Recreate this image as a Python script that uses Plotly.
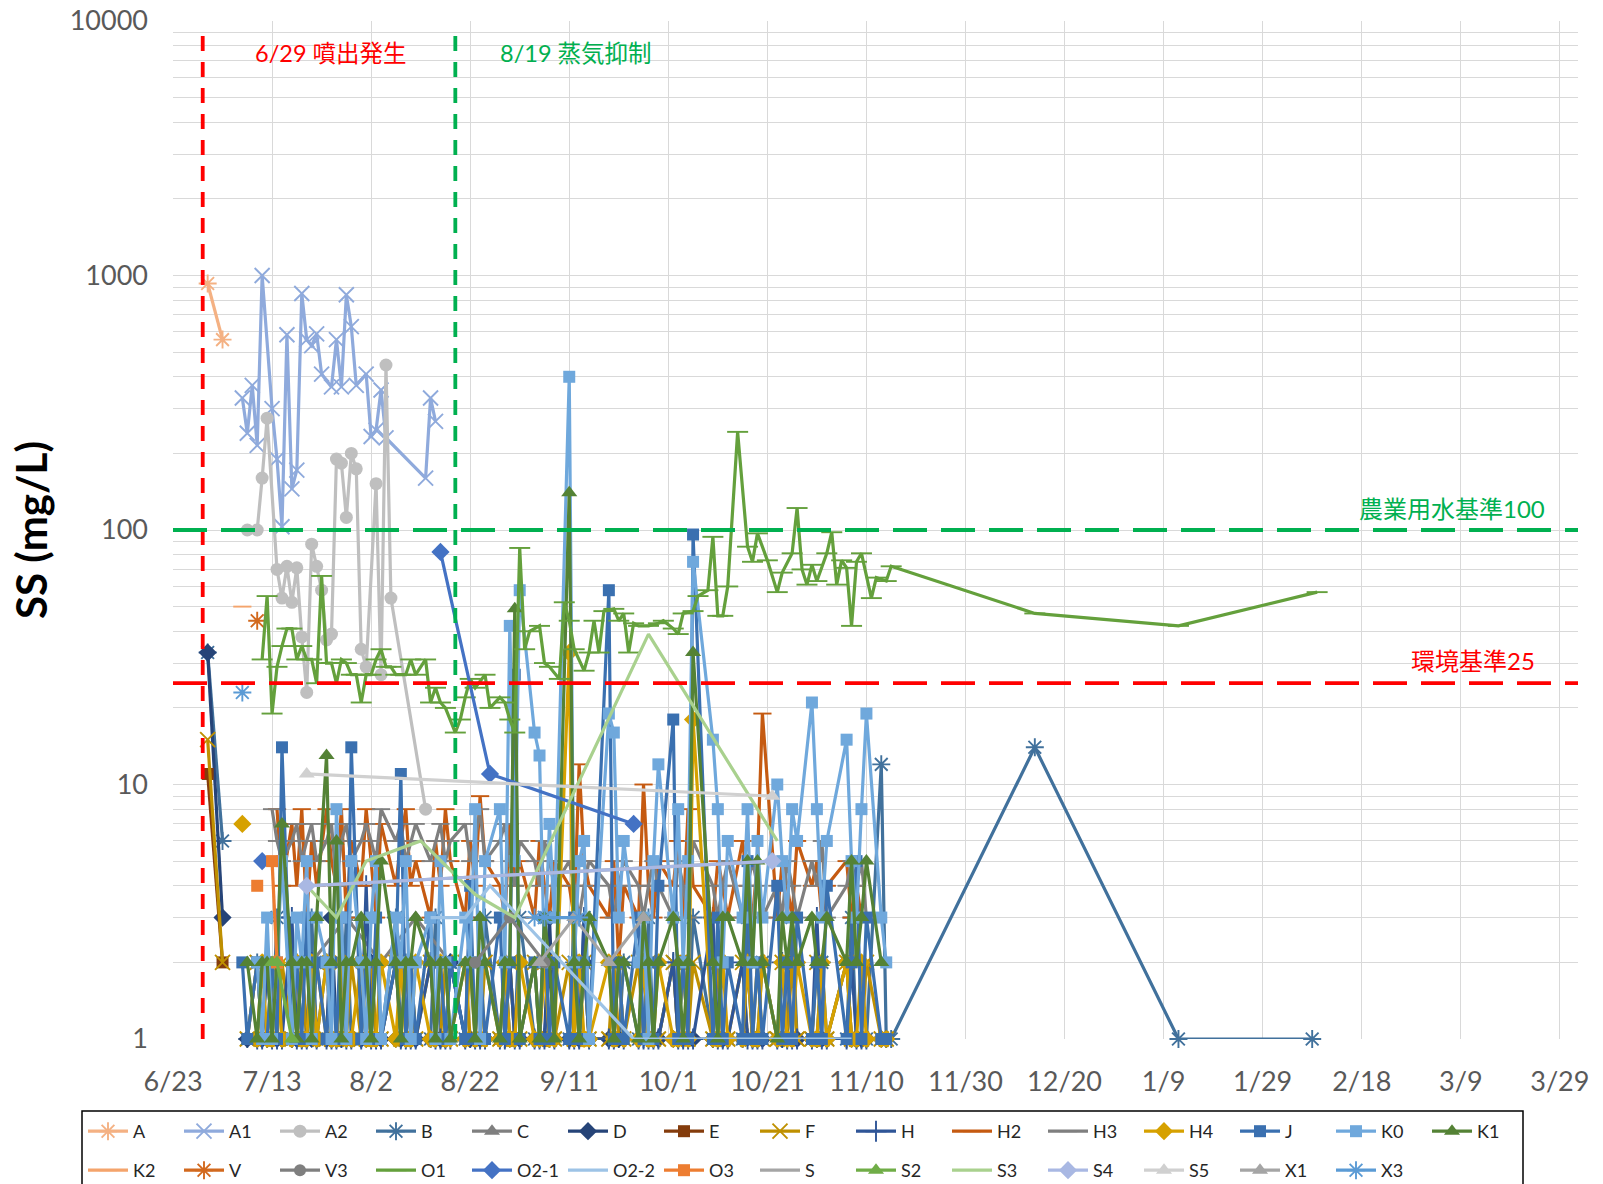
import plotly.graph_objects as go

N = None
BASE_YEAR = 2023


def iso(md):
    m, d = (int(t) for t in md.split("/"))
    return f"{BASE_YEAR if m >= 6 else BASE_YEAR + 1}-{m:02d}-{d:02d}"


# ---------------- axis / reference data ----------------
X_TICKS = ["6/23", "7/13", "8/2", "8/22", "9/11", "10/1", "10/21", "11/10",
           "11/30", "12/20", "1/9", "1/29", "2/18", "3/9", "3/29"]
X_START = "2023-06-23"
X_END = "2024-04-01 16:00"
Y_DECADES = [1, 10, 100, 1000, 10000]

EVENT_DATES = ["6/29", "8/19"]
EVENT_LABELS = ["6/29 噴出発生", "8/19 蒸気抑制"]
STANDARD_VALUES = [100, 25]
STANDARD_LABELS = ["農業用水基準100", "環境基準25"]

# ---------------- series data ----------------
DENSE_DATES = ["7/7", "7/8", "7/10", "7/11", "7/12", "7/13", "7/14", "7/15", "7/17", "7/18",
               "7/19", "7/20", "7/21", "7/22", "7/24", "7/25", "7/26", "7/27", "7/28", "7/29",
               "7/31", "8/1", "8/2", "8/3", "8/4", "8/7", "8/8", "8/9", "8/10", "8/11",
               "8/14", "8/15", "8/16", "8/17", "8/18", "8/21", "8/22", "8/23", "8/24", "8/25",
               "8/28", "8/29", "8/30", "8/31", "9/1", "9/4", "9/5", "9/6", "9/7", "9/8",
               "9/11", "9/12", "9/13", "9/14", "9/15", "9/19", "9/20", "9/21", "9/22", "9/25",
               "9/26", "9/27", "9/28", "9/29", "10/2", "10/3", "10/4", "10/5", "10/6", "10/10",
               "10/11", "10/12", "10/13", "10/16", "10/17", "10/18", "10/19", "10/20", "10/23", "10/24",
               "10/25", "10/26", "10/27", "10/30", "10/31", "11/1", "11/2", "11/6", "11/7", "11/8",
               "11/9", "11/10", "11/13", "11/14"]

A_DATES = ["6/30", "7/3"]
A_VALS = [930, 560]

A1_DATES = ["7/7", "7/8", "7/9", "7/10", "7/11", "7/13", "7/14", "7/15", "7/16", "7/17",
            "7/18", "7/19", "7/20", "7/21", "7/22", "7/23", "7/25", "7/26", "7/27", "7/28",
            "7/29", "7/30", "8/1", "8/2", "8/3", "8/4", "8/5", "8/13", "8/14", "8/15"]
A1_VALS = [330, 240, 370, 215, 1000, 300, 190, 103, 585, 145,
           172, 850, 560, 530, 590, 410, 365, 560, 365, 840,
           630, 370, 410, 233, 247, 355, 230, 160, 330, 267]

A2_DATES = ["7/8", "7/10", "7/11", "7/12", "7/14", "7/15", "7/16", "7/17", "7/18", "7/19",
            "7/20", "7/21", "7/22", "7/23", "7/24", "7/25", "7/26", "7/27", "7/28", "7/29",
            "7/30", "7/31", "8/1", "8/3", "8/4", "8/5", "8/6", "8/13"]
A2_VALS = [100, 100, 160, 275, 70, 54, 72, 52, 71, 38,
           23, 88, 72, 58, 37, 39, 190, 183, 112, 200,
           174, 34, 29, 152, 27, 445, 54, 8]

B_PRE_DATES = ["6/30", "7/3"]
B_PRE_VALS = [33, 6]
B_DENSE = [N, 1, 2, 1, 1, 1, 3, 1, 1, 2,
           1, 1, 3, 1, 2, 1, 1, 1, 3, 1,
           1, 2, 1, 1, 1, 3, 1, 2, 1, 1,
           1, 3, 1, 1, 2, 1, 1, 1, 1, 3,
           1, 1, 2, 1, 3, 1, 1, 3, 1, 1,
           1, 2, 1, 3, 1, 1, 1, 1, 2, 1,
           1, 3, 1, 1, 2, 1, 1, 1, 3, 1,
           2, 1, 1, 1, 3, 1, 1, 2, 1, 1,
           1, 3, 1, 1, 1, 2, 1, 1, 3, 1,
           1, 1, 12, 1]
B_POST_DATES = ["11/15", "12/14", "1/12", "2/8"]
B_POST_VALS = [1, 14, 1, 1]

C_DATES = ["7/21", "7/28", "8/4", "8/11", "8/18"]
C_VALS = [2, 3, 2, 3, 2]

D_PRE_DATES = ["6/30", "7/3"]
D_PRE_VALS = [33, 3]
D_DENSE = [N, 1, 1, 1, 2, 1, 1, 1, 1, 1,
           2, 1, 1, 1, 1, 3, 1, 1, 1, 1,
           1, 1, 2, 1, 1, 1, 1, 1, 2, 1,
           1, 1, 1, 1, 2, 1, 1, 1, 1, 1,
           1, 2, 1, 1, 1, 1, 1, 1, 3, 1,
           1, 1, 1, 2, 1, 1, 1, 1, 1, 1,
           2, 1, 1, 1, 1, 1, 2, 1, 1, 1,
           1, 1, 1, 1, 2, 1, 1, 1, 1, 1,
           2, 1, 1, 1, 1, 1, 1, 2, 1, 1,
           1, 1, 1, 1]

E_DATES = ["6/30", "7/3"]
E_VALS = [11, 2]

F_PRE_DATES = ["6/30", "7/3"]
F_PRE_VALS = [15, 2]
F_DENSE = [N, 1, 2, 1, 1, 2, 1, 2, 1, 1,
           2, 1, 1, 2, 1, 1, 1, 2, 1, 2,
           1, 1, 2, 1, 1, 2, 1, 1, 2, 1,
           2, 1, 1, 2, 1, 2, 1, 1, 1, 2,
           1, 1, 2, 1, 1, 2, 1, 2, 1, 1,
           2, 1, 1, 2, 1, 1, 2, 1, 1, 2,
           1, 2, 1, 1, 2, 1, 1, 1, 2, 1,
           2, 1, 1, 2, 1, 1, 2, 1, 1, 2,
           1, 2, 1, 1, 2, 1, 1, 2, 1, 1,
           1, 2, 1, 1]

H_DENSE = [N, N, 1, 1, 2, 1, 1, 1, 3, 1,
           1, 1, 2, 1, 1, 1, 1, 2, 1, 1,
           1, 4, 1, 1, 1, 2, 1, 1, 1, 1,
           2, 1, 1, 1, 1, 1, 3, 1, 1, 1,
           1, 1, 2, 1, 1, 1, 1, 1, 2, 1,
           1, 1, 1, 3, 1, 1, 1, 2, 1, 1,
           1, 1, 1, 1, 2, 1, 1, 1, 1, 3,
           1, 1, 1, 2, 1, 1, 1, 1, 1, 2,
           1, 1, 1, 1, 3, 1, 1, 1, 2, 1,
           1, 1, N, N]

H2_DENSE = [N, N, N, N, N, N, 8, 4, 7, 4,
            8, 3, 6, 4, 8, 5, 4, 8, 3, 6,
            4, 8, 5, 3, 7, 4, 6, 8, 4, 5,
            3, 6, 4, 8, 5, 3, 6, 4, 9, 5,
            4, 3, 7, 4, 5, 3, 6, 4, 3, 5,
            4, 3, 12, 5, 4, 3, 5, 2, 4, 3,
            10, 4, 3, 5, 4, 6, 3, 8, 4, 3,
            5, 4, 3, 6, 4, 3, 5, 19, 3, 5,
            4, 3, 6, 4, 5, 3, 4, 5, 3, 4,
            3, N, N, N]

H3_DENSE = [N, N, N, N, N, 8, 6, 5, 6, 7,
            5, 6, 7, 5, 6, 7, 4, 6, 7, 5,
            6, 7, 6, 5, 8, 6, 7, 5, 6, 7,
            5, 6, 7, 5, 6, 7, 5, 6, 8, 5,
            6, 7, 5, 4, 6, 5, 4, 6, 5, 4,
            5, 4, 3, 4, 5, 4, 3, 4, 5, 4,
            3, 4, 5, 4, 3, 5, 4, 3, 6, 4,
            3, 4, 5, 3, 4, 5, 4, 3, 4, 3,
            5, 4, 3, 5, 4, 6, 3, 4, 5, 4,
            5, 3, N, N]

H4_DENSE = [7, N, 1, 2, 1, 1, 2, 1, 1, 2,
            1, 1, 2, 1, 2, 1, 1, 2, 1, 1,
            2, 1, 1, 1, 2, 1, 2, 1, 1, 2,
            1, 1, 2, 1, 1, 1, 2, 1, 2, 1,
            1, 2, 1, 1, 2, 1, 1, 2, 1, 1,
            33, 1, 2, 1, 1, 2, 1, 2, 1, 1,
            2, 1, 1, 2, 1, 1, 2, 1, 18, 1,
            1, 2, 1, 1, 2, 1, 1, 2, 1, 2,
            1, 1, 2, 1, 1, 2, 1, 2, 1, 1,
            2, 1, 1, 1]

J_DENSE = [2, 1, 2, 1, 1, 2, 1, 14, 1, 2,
           1, 3, 1, 2, 1, 2, 1, 3, 1, 14,
           1, 2, 1, 3, 1, 2, 11, 1, 2, 1,
           3, 1, 2, 1, 2, 1, 4, 1, 2, 1,
           3, 1, 2, 27, 1, 2, 1, 3, 1, 2,
           1, 3, 1, 2, 1, 58, 1, 2, 1, 3,
           1, 2, 1, 4, 18, 1, 2, 1, 96, 1,
           3, 1, 2, 1, 5, 1, 2, 1, 4, 1,
           2, 1, 3, 1, 2, 1, 4, 1, 2, 5,
           1, 3, 1, 1]

K0_DENSE = [N, N, 2, 1, 3, 1, 2, 5, 1, 3,
            2, 5, 1, 3, 2, 1, 8, 3, 1, 5,
            2, 1, 3, 5, 1, 3, 2, 5, 1, 2,
            3, 1, 5, 2, 1, 3, 2, 8, 1, 5,
            8, 2, 42, 5, 58, 16, 13, 2, 7, 3,
            400, 2, 5, 6, 1, 19, 16, 3, 6, 2,
            3, 1, 5, 12, 3, 8, 2, 5, 75, 15,
            8, 2, 6, 3, 8, 2, 6, 3, 10, 5,
            3, 8, 6, 21, 8, 3, 6, 15, 5, 3,
            8, 19, 3, 2]

K1_DENSE = [N, 2, 1, 2, 2, 1, 2, 7, 2, 1,
            2, 2, 1, 3, 13, 2, 6, 1, 2, 2,
            3, 2, 1, 2, 5, 2, 1, 2, 2, 3,
            2, 1, 2, 2, 1, 2, 2, 1, 3, 2,
            1, 2, 2, 49, 1, 2, 1, 3, 2, 1,
            140, 2, 1, 2, 3, 2, 1, 2, 2, 1,
            3, 2, 1, 2, 3, 2, 1, 2, 33, 2,
            1, 3, 3, 2, 5, 2, 5, 2, 1, 3,
            2, 3, 2, 3, 2, 2, 3, 2, 5, 2,
            3, 5, 2, N]

K2_DATES = ["7/7"]
K2_VALS = [50]

V_DATES = ["7/10"]
V_VALS = [44]

V3_DATES = ["8/23", "8/30", "9/6"]
V3_VALS = [2, 3, 2]

O1_DATES = ["7/11", "7/12", "7/13", "7/14", "7/15", "7/16", "7/17", "7/18", "7/19", "7/20",
            "7/21", "7/22", "7/23", "7/24", "7/25", "7/26", "7/27", "7/28", "7/29", "7/30",
            "7/31", "8/1", "8/2", "8/3", "8/4", "8/5", "8/6", "8/7", "8/8", "8/9",
            "8/10", "8/11", "8/13", "8/14", "8/15", "8/16", "8/17", "8/19", "8/20", "8/21",
            "8/22", "8/23", "8/25", "8/26", "8/28", "8/29", "8/30", "8/31", "9/1", "9/2",
            "9/3", "9/5", "9/6", "9/7", "9/9", "9/10", "9/11", "9/12", "9/14", "9/15",
            "9/16", "9/17", "9/18", "9/20", "9/21", "9/22", "9/23", "9/24", "9/25", "9/27",
            "9/29", "9/30", "10/2", "10/3", "10/4", "10/6", "10/7", "10/9", "10/10", "10/11",
            "10/12", "10/13", "10/15", "10/17", "10/18", "10/19", "10/21", "10/23", "10/24", "10/26",
            "10/27", "10/28", "10/29", "10/30", "10/31", "11/2", "11/3", "11/4", "11/5", "11/6",
            "11/7", "11/8", "11/9", "11/11", "11/12", "11/14", "11/15", "12/14", "1/12", "2/9"]
O1_VALS = [31, 55, 19, 29, 35, 41, 41, 31, 35, 31,
           31, 25, 66, 30, 30, 25, 31, 30, 27, 27,
           21, 27, 27, 31, 34, 29, 29, 27, 27, 27,
           31, 27, 31, 21, 24, 21, 20, 16, 18, 22,
           26, 24, 27, 20, 22, 21, 18, 16, 85, 34,
           40, 42, 30, 29, 26, 52, 44, 34, 28, 33,
           44, 33, 48, 49, 44, 47, 33, 43, 42, 42,
           43, 44, 41, 39, 47, 48, 55, 58, 94, 46,
           46, 60, 243, 86, 75, 97, 76, 57, 68, 81,
           122, 70, 61, 73, 63, 81, 98, 61, 76, 71,
           42, 75, 81, 54, 65, 63, 72, 47, 42, 57]

O21_DATES = ["7/11", "7/12", "8/16", "8/26", "9/24"]
O21_VALS = [5, N, 82, 11, 7]

O22_DATES = ["8/14", "8/21", "8/26", "9/24", "11/7"]
O22_VALS = [3, 3, 4, 1, 1]

O3_DATES = ["7/10", "7/11", "7/13", "7/14"]
O3_VALS = [4, N, 5, 2]

S_DATES = ["7/20", "10/22"]
S_VALS = [4, 5]

S2_DATES = ["7/13", "7/14", "7/17"]
S2_VALS = [2, 2, 1]

S3_DATES = ["7/20", "7/26", "8/1", "8/12", "8/23", "8/31", "9/27", "10/23"]
S3_VALS = [4, 3, 5, 6, 3.7, 3, 39, 6]

S4_DATES = ["7/20", "10/22"]
S4_VALS = [4, 5]

S5_DATES = ["7/20", "10/22"]
S5_VALS = [11, 9]

X1_DATES = ["9/5", "9/12", "9/19", "9/26"]
X1_VALS = [2, 3, 2, 3]

X3_DATES = ["7/7", "7/8", "9/4", "9/6", "9/13"]
X3_VALS = [23, N, 3, 3, 3]

SERIES = {
    "A": (A_DATES, A_VALS),
    "A1": (A1_DATES, A1_VALS),
    "A2": (A2_DATES, A2_VALS),
    "B": (B_PRE_DATES + DENSE_DATES + B_POST_DATES, B_PRE_VALS + B_DENSE + B_POST_VALS),
    "C": (C_DATES, C_VALS),
    "D": (D_PRE_DATES + DENSE_DATES, D_PRE_VALS + D_DENSE),
    "E": (E_DATES, E_VALS),
    "F": (F_PRE_DATES + DENSE_DATES, F_PRE_VALS + F_DENSE),
    "H": (DENSE_DATES, H_DENSE),
    "H2": (DENSE_DATES, H2_DENSE),
    "H3": (DENSE_DATES, H3_DENSE),
    "H4": (DENSE_DATES, H4_DENSE),
    "J": (DENSE_DATES, J_DENSE),
    "K0": (DENSE_DATES, K0_DENSE),
    "K1": (DENSE_DATES, K1_DENSE),
    "K2": (K2_DATES, K2_VALS),
    "V": (V_DATES, V_VALS),
    "V3": (V3_DATES, V3_VALS),
    "O1": (O1_DATES, O1_VALS),
    "O2-1": (O21_DATES, O21_VALS),
    "O2-2": (O22_DATES, O22_VALS),
    "O3": (O3_DATES, O3_VALS),
    "S": (S_DATES, S_VALS),
    "S2": (S2_DATES, S2_VALS),
    "S3": (S3_DATES, S3_VALS),
    "S4": (S4_DATES, S4_VALS),
    "S5": (S5_DATES, S5_VALS),
    "X1": (X1_DATES, X1_VALS),
    "X3": (X3_DATES, X3_VALS),
}
ROW1 = ["A", "A1", "A2", "B", "C", "D", "E", "F", "H", "H2", "H3", "H4", "J", "K0", "K1"]
ROW2 = ["K2", "V", "V3", "O1", "O2-1", "O2-2", "O3", "S", "S2", "S3", "S4", "S5", "X1", "X3"]

# ---------------- styles ----------------
STYLES = {
    "A": ("#F4B183", "asterisk-open", 15),
    "A1": ("#8FAADC", "x-thin-open", 15),
    "A2": ("#BFBFBF", "circle", 13),
    "B": ("#41719C", "asterisk-open", 15),
    "C": ("#7F7F7F", "triangle-up", 14),
    "D": ("#264478", "diamond", 14),
    "E": ("#843C0C", "square", 12),
    "F": ("#BF9000", "x-thin-open", 15),
    "H": ("#2F5597", "cross-thin-open", 15),
    "H2": ("#C55A11", "line-ew-open", 13),
    "H3": ("#7F7F7F", "line-ew-open", 13),
    "H4": ("#D6A100", "diamond", 14),
    "J": ("#3A70B0", "square", 12),
    "K0": ("#6FA8DC", "square", 12),
    "K1": ("#548235", "triangle-up", 14),
    "K2": ("#F4A46C", "line-ew-open", 13),
    "V": ("#D2691E", "asterisk-open", 15),
    "V3": ("#7F7F7F", "circle", 12),
    "O1": ("#64A03C", "line-ew-open", 15),
    "O2-1": ("#4472C4", "diamond", 14),
    "O2-2": ("#9DC3E6", None, 0),
    "O3": ("#ED7D31", "square", 12),
    "S": ("#A5A5A5", None, 0),
    "S2": ("#70AD47", "triangle-up", 14),
    "S3": ("#A9D18E", None, 0),
    "S4": ("#A9B8E3", "diamond", 14),
    "S5": ("#D0D0D0", "triangle-up", 14),
    "X1": ("#A5A5A5", "triangle-up", 14),
    "X3": ("#5B9BD5", "asterisk-open", 15),
}
LINE_WIDTH = 3.2

W, H = 1603, 1184
ML, MR, MT, MB = 173, 25, 21, 145
PW, PH = W - ML - MR, H - MT - MB


def px_x(px):
    return (px - ML) / PW


def px_y(py):
    return (H - MB - py) / PH


TEXT_FONT = "Lato, 'Noto Sans CJK JP', sans-serif"
JP_FONT = "Lato, 'Noto Sans CJK JP', sans-serif"

fig = go.Figure()

for name in ROW1 + ROW2:
    dates, vals = SERIES[name]
    n = min(len(dates), len(vals))
    color, symbol, size = STYLES[name]
    tr = dict(
        x=[iso(s) for s in dates[:n]], y=vals[:n], name=name,
        line=dict(color=color, width=LINE_WIDTH),
        cliponaxis=False,
        legend="legend" if name in ROW1 else "legend2",
    )
    if symbol is None:
        tr["mode"] = "lines"
    else:
        tr["mode"] = "lines+markers"
        if symbol.endswith("-open"):
            tr["marker"] = dict(symbol=symbol, size=size, color=color,
                                line=dict(color=color, width=1.9))
        else:
            tr["marker"] = dict(symbol=symbol, size=size, color=color,
                                line=dict(width=0))
    fig.add_trace(go.Scatter(**tr))

# reference lines
EVENT_COLORS = ["#FF0000", "#00B050"]
for dt, col in zip(EVENT_DATES, EVENT_COLORS):
    fig.add_shape(type="line", xref="x", yref="paper", x0=iso(dt), x1=iso(dt), y0=0, y1=0.995,
                  line=dict(color=col, width=3.8, dash="15px,11px"), layer="above")
for val, col in zip(STANDARD_VALUES, ["#00B050", "#FF0000"]):
    fig.add_hline(y=val, line=dict(color=col, width=3.8, dash="34px,14px"), layer="above")

# labels
ann_pos = [(331, 53), (576, 53)]
for txt, col, (ax, ay) in zip(EVENT_LABELS, EVENT_COLORS, ann_pos):
    fig.add_annotation(text=txt, xref="paper", yref="paper", x=px_x(ax), y=px_y(ay),
                       showarrow=False, xanchor="center", yanchor="middle",
                       font=dict(family=JP_FONT, size=23.5, color=col))
std_pos = [(1452, 508), (1473, 660)]
for txt, col, (ax, ay) in zip(STANDARD_LABELS, ["#00B050", "#FF0000"], std_pos):
    fig.add_annotation(text=txt, xref="paper", yref="paper", x=px_x(ax), y=px_y(ay),
                       showarrow=False, xanchor="center", yanchor="middle",
                       font=dict(family=JP_FONT, size=24, color=col))

# legend frame
fig.add_shape(type="rect", xref="paper", yref="paper",
              x0=px_x(82), x1=px_x(1523), y0=px_y(1111), y1=px_y(1215),
              line=dict(color="#000000", width=1.5), fillcolor="rgba(0,0,0,0)", layer="above")

y_tickvals = []
y_ticktext = []
for dec in Y_DECADES[:-1]:
    for k in range(1, 10):
        y_tickvals.append(dec * k)
        y_ticktext.append(str(dec) if k == 1 else "")
y_tickvals.append(Y_DECADES[-1])
y_ticktext.append(str(Y_DECADES[-1]))

legend_common = dict(orientation="h", xanchor="left", yanchor="top", x=px_x(83),
                     entrywidth=41, entrywidthmode="pixels", itemwidth=40,
                     bgcolor="rgba(0,0,0,0)", borderwidth=0, traceorder="normal",
                     font=dict(family=TEXT_FONT, size=18, color="#262626"),
                     itemclick=False, itemdoubleclick=False)

fig.update_layout(
    width=W, height=H,
    margin=dict(l=ML, r=MR, t=MT, b=MB, autoexpand=False),
    paper_bgcolor="white", plot_bgcolor="white",
    font=dict(family=TEXT_FONT, color="#595959"),
    showlegend=True,
    legend=dict(legend_common, y=px_y(1113)),
    legend2=dict(legend_common, y=px_y(1152)),
    xaxis=dict(type="date", range=[X_START, X_END],
               tickmode="array", tickvals=[iso(t) for t in X_TICKS], ticktext=X_TICKS,
               showgrid=True, gridcolor="#D9D9D9", gridwidth=1.2,
               zeroline=False, showline=False, ticks="",
               tickfont=dict(family=TEXT_FONT, size=27, color="#595959"),
               ticklabelstandoff=24),
    yaxis=dict(type="log", range=[0, 4],
               tickmode="array", tickvals=y_tickvals, ticktext=y_ticktext,
               showgrid=True, gridcolor="#D9D9D9", gridwidth=1.2,
               zeroline=False, showline=False, ticks="",
               tickfont=dict(family=TEXT_FONT, size=27, color="#595959"),
               ticklabelstandoff=24,
               title=dict(text="SS (mg/L)", standoff=8,
                          font=dict(family=TEXT_FONT, size=42, color="#000000", weight="bold"))),
)

fig.write_html("out.html", config={"displayModeBar": False},
               post_script="document.body.style.margin='0';document.body.style.overflow='hidden';")
